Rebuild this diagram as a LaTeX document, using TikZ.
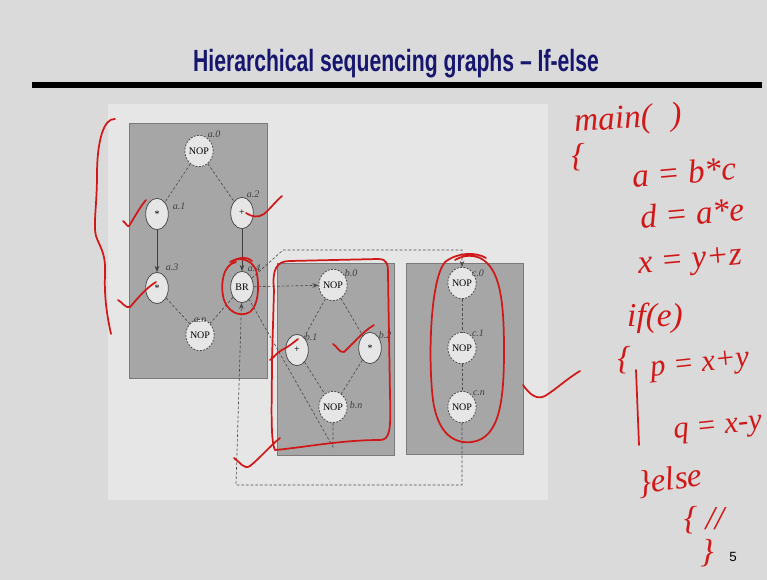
\documentclass[tikz,border=0pt]{standalone}
\usepackage{graphicx}
\usepackage{fontspec}
\setmainfont{Liberation Serif}
\newfontfamily\titlefont{Liberation Sans}
\usetikzlibrary{shapes.geometric,arrows.meta}
\definecolor{slidebg}{HTML}{DADADA}
\definecolor{paper}{HTML}{E6E6E6}
\definecolor{boxgray}{HTML}{A6A6A6}
\definecolor{boxedge}{HTML}{7A7A7A}
\definecolor{nodefill}{HTML}{E6E6E6}
\definecolor{nodeedge}{HTML}{505050}
\definecolor{hred}{HTML}{D01818}
\definecolor{titleblue}{HTML}{16166E}
\begin{document}
\begin{tikzpicture}[x=0.75pt,y=-0.75pt,
  graybox/.style={fill=boxgray, draw=boxedge, line width=0.6pt},
  opnode/.style={ellipse, draw=nodeedge, fill=nodefill, line width=0.6pt, minimum width=17pt, minimum height=23.5pt, inner sep=0pt, font=\fontsize{7.5}{8}\selectfont},
  nopnode/.style={opnode, dash pattern=on 1.5pt off 1pt},
  lbl/.style={font=\fontsize{7.5}{8}\selectfont\itshape, text=black!75, inner sep=0pt},
  edge/.style={dash pattern=on 2pt off 1.5pt, draw=black!70, line width=0.5pt},
  arr/.style={-{Stealth[length=4.5pt,width=3.5pt]}},
  hand/.style={draw=hred, line width=1.3pt, line cap=round, line join=round},
  htext/.style={text=hred, font=\fontsize{25}{25}\selectfont\itshape, inner sep=0pt},
  htexts/.style={text=hred, font=\fontsize{23}{23}\selectfont\itshape, inner sep=0pt}
]
\fill[slidebg] (0,0) rectangle (767,580);
\useasboundingbox (0,0) rectangle (767,580);
\fill[paper] (108,104) rectangle (548,500);

% title and rule
\node[font=\titlefont\bfseries\fontsize{23}{23}\selectfont, text=titleblue, anchor=base] (title) at (396,72) {\scalebox{0.69}[1]{Hierarchical sequencing graphs \textendash{} If-else}};
\fill[black] (32,82) rectangle (762,88);

% boxes
\draw[graybox] (129,123) rectangle (267,378);
\draw[graybox] (277,263) rectangle (394,455);
\draw[graybox] (406,263) rectangle (523,454);

% nodes
\node[nopnode] (a0) at (199,151) {NOP};
\node[opnode] (a1) at (157,214) {*};
\node[opnode] (a2) at (242,213) {+};
\node[opnode] (a3) at (157,288) {*};
\node[opnode] (br) at (242,287) {BR};
\node[nopnode] (an) at (200,335) {NOP};
\node[nopnode] (b0) at (333,285) {NOP};
\node[opnode] (b1) at (297,350) {+};
\node[opnode] (b2) at (370,348) {*};
\node[nopnode] (bn) at (333,407) {NOP};
\node[nopnode] (c0) at (462,283) {NOP};
\node[nopnode] (c1) at (462,348) {NOP};
\node[nopnode] (cn) at (462,407) {NOP};

% labels
\node[lbl] (la0) at (214,134) {a.0};
\node[lbl] (la1) at (179,206) {a.1};
\node[lbl] (la2) at (253,194) {a.2};
\node[lbl] (la3) at (172,267) {a.3};
\node[lbl] (la4) at (254,268) {a.4};
\node[lbl] (lan) at (200,320) {a.n};
\node[lbl] (lb0) at (351,273) {b.0};
\node[lbl] (lb1) at (311,337) {b.1};
\node[lbl] (lb2) at (385,335) {b.2};
\node[lbl] (lbn) at (356,405) {b.n};
\node[lbl] (lc0) at (478,273) {c.0};
\node[lbl] (lc1) at (478,333) {c.1};
\node[lbl] (lcn) at (479,393) {c.n};

% edges
\draw[edge] (a0) -- (a1);
\draw[edge] (a0) -- (a2);
\draw[draw=black!75, line width=0.6pt, arr] (a1) -- (a3);
\draw[draw=black!75, line width=0.6pt, arr] (a2) -- (br);
\draw[edge] (a3) -- (an);
\draw[edge] (br) -- (an);
\draw[edge] (b0) -- (b1);
\draw[edge] (b0) -- (b2);
\draw[edge] (b1) -- (bn);
\draw[edge] (b2) -- (bn);
\draw[edge] (c0) -- (c1);
\draw[edge] (c1) -- (cn);
\draw[edge, arr] (br) -- (b0);
\coordinate (tl) at (283,250);
\coordinate (tr) at (462,250);
\draw[edge, arr] (br) -- (tl) -- (tr) -- (c0);
\coordinate (bj) at (333,447);
\draw[edge] (bn) -- (bj) -- (br);
\coordinate (rb) at (462,485);
\coordinate (lb) at (236,485);
\draw[edge, arr] (cn) -- (rb) -- (lb) -- (br);

% red handwriting strokes
\draw[hand] (115,119) .. controls (104,118) and (97,140) .. (97,175) .. controls (97,205) and (93,225) .. (96,236) .. controls (100,248) and (106,252) .. (105,275) .. controls (104,300) and (108,320) .. (111,334);
\draw[hand] (123,221) .. controls (126,223) and (127,227) .. (129,226) .. controls (134,218) and (140,207) .. (146,200);
\draw[hand] (118,300) .. controls (122,302) and (126,309) .. (130,307) .. controls (138,298) and (146,288) .. (156,282);
\draw[hand] (246,213) .. controls (252,217) and (258,218) .. (264,214) .. controls (270,209) and (276,201) .. (282,196);
\draw[hand] (236,262) .. controls (222,265) and (221,285) .. (223,296) .. controls (226,312) and (240,318) .. (250,312) .. controls (260,304) and (259,280) .. (256,270) .. controls (252,260) and (240,256) .. (230,262);
\draw[hand] (232,262) .. controls (238,257) and (246,256) .. (252,261);
\draw[hand] (274,290) .. controls (272,270) and (276,261) .. (290,261) -- (378,259) .. controls (388,259) and (388,265) .. (388,275) -- (390,395) .. controls (391,430) and (390,440) .. (380,440) .. controls (340,440) and (300,448) .. (275,450) .. controls (270,440) and (272,400) .. (272,360) -- (274,290);
\draw[hand] (234,458) .. controls (240,462) and (244,470) .. (250,466) .. controls (260,458) and (270,446) .. (280,438);
\draw[hand] (270,360) .. controls (274,358) and (277,352) .. (282,350) .. controls (288,347) and (293,343) .. (298,339);
\draw[hand] (333,344) .. controls (337,346) and (339,353) .. (344,352) .. controls (352,345) and (362,332) .. (374,325);
\draw[hand] (486,258) .. controls (476,252) and (458,252) .. (445,262) .. controls (430,280) and (428,360) .. (433,400) .. controls (438,435) and (455,444) .. (472,442) .. controls (500,438) and (504,400) .. (504,350) .. controls (504,300) and (500,268) .. (480,258) .. controls (470,254) and (462,256) .. (455,260);
\draw[hand] (523,385) .. controls (530,395) and (537,400) .. (545,396) .. controls (555,390) and (568,378) .. (580,371);
\draw[hand] (636,370) .. controls (637,395) and (638,420) .. (639,445);

% red handwritten text
\node[htext, rotate=4] (h1) at (628,120) {main(\hspace{14pt})};
\node[htext] (h2) at (578,157) {\{};
\node[htext, rotate=5] (h3) at (684,172) {a = b*c};
\node[htext, rotate=5] (h4) at (692,213) {d = a*e};
\node[htext, rotate=5] (h5) at (690,263) {x = y+z};
\node[htext] (h6) at (655,318) {if(e)};
\node[htext] (h7) at (624,360) {\{};
\node[htexts, rotate=6] (h8) at (700,366) {p = x+y};
\node[htexts, rotate=6] (h9) at (718,430) {q = x-y};
\node[htext, rotate=8] (h10) at (670,481) {\}else};
\node[htext] (h11) at (704,520) {\{ //};
\node[htext] (h12) at (707,553) {\}};

% page number
\node[font=\titlefont\fontsize{10}{10}\selectfont] (pg) at (733,557) {5};
\end{tikzpicture}
\end{document}
